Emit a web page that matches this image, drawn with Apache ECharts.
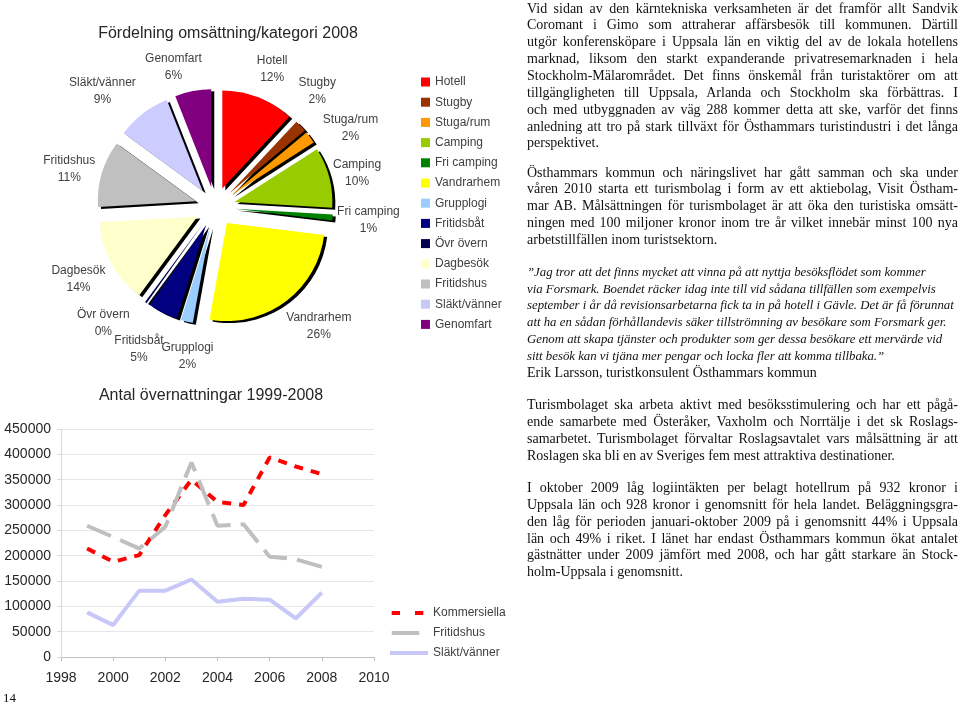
<!DOCTYPE html>
<html><head><meta charset="utf-8">
<script src="https://cdn.jsdelivr.net/npm/echarts@6/dist/echarts.min.js"></script>
<style>
html,body{margin:0;padding:0;background:#fff;width:960px;height:703px;overflow:hidden;}
#chart{position:absolute;left:0;top:0;width:960px;height:703px;}
.txt{position:absolute;left:527px;width:431px;font-family:"Liberation Serif","DejaVu Serif",serif;font-size:14px;line-height:16.85px;color:#111;}
.txt div{text-align:justify;text-align-last:justify;white-space:nowrap;}
.txt div.l{text-align:left;text-align-last:left;}
.q{font-style:italic;font-size:12.8px;}
.q div{text-align:left;text-align-last:left;}
.pg{position:absolute;left:3px;top:690px;font-family:"Liberation Serif",serif;font-size:13px;color:#111;}
</style></head><body>
<div id="chart"></div>
<div class="txt" style="top:0.6px">
<div>Vid sidan av den kärntekniska verksamheten är det framför allt Sandvik</div>
<div>Coromant i Gimo som attraherar affärsbesök till kommunen. Därtill</div>
<div>utgör konferensköpare i Uppsala län en viktig del av de lokala hotellens</div>
<div>marknad, liksom den starkt expanderande privatresemarknaden i hela</div>
<div>Stockholm-Mälarområdet. Det finns önskemål från turistaktörer om att</div>
<div>tillgängligheten till Uppsala, Arlanda och Stockholm ska förbättras. I</div>
<div>och med utbyggnaden av väg 288 kommer detta att ske, varför det finns</div>
<div>anledning att tro på stark tillväxt för Östhammars turistindustri i det långa</div>
<div class="l">perspektivet.</div>
</div>
<div class="txt" style="top:164.6px">
<div>Östhammars kommun och näringslivet har gått samman och ska under</div>
<div>våren 2010 starta ett turismbolag i form av ett aktiebolag, Visit Östham-</div>
<div>mar AB. Målsättningen för turismbolaget är att öka den turistiska omsätt-</div>
<div>ningen med 100 miljoner kronor inom tre år vilket innebär minst 100 nya</div>
<div class="l">arbetstillfällen inom turistsektorn.</div>
</div>
<div class="txt" style="top:263.8px">
<div class="q">
<div>”Jag tror att det finns mycket att vinna på att nyttja besöksflödet som kommer</div>
<div>via Forsmark. Boendet räcker idag inte till vid sådana tillfällen som exempelvis</div>
<div>september i år då revisionsarbetarna fick ta in på hotell i Gävle. Det är få förunnat</div>
<div>att ha en sådan förhållandevis säker tillströmning av besökare som Forsmark ger.</div>
<div>Genom att skapa tjänster och produkter som ger dessa besökare ett mervärde vid</div>
<div>sitt besök kan vi tjäna mer pengar och locka fler att komma tillbaka.”</div>
</div>
<div class="l">Erik Larsson, turistkonsulent Östhammars kommun</div>
</div>
<div class="txt" style="top:397px">
<div>Turismbolaget ska arbeta aktivt med besöksstimulering och har ett pågå-</div>
<div>ende samarbete med Österåker, Vaxholm och Norrtälje i det sk Roslags-</div>
<div>samarbetet. Turismbolaget förvaltar Roslagsavtalet vars målsättning är att</div>
<div class="l">Roslagen ska bli en av Sveriges fem mest attraktiva destinationer.</div>
</div>
<div class="txt" style="top:480px">
<div>I oktober 2009 låg logiintäkten per belagt hotellrum på 932 kronor i</div>
<div>Uppsala län och 928 kronor i genomsnitt för hela landet. Beläggningsgra-</div>
<div>den låg för perioden januari-oktober 2009 på i genomsnitt 44% i Uppsala</div>
<div>län och 49% i riket. I länet har endast Östhammars kommun ökat antalet</div>
<div>gästnätter under 2009 jämfört med 2008, och har gått starkare än Stock-</div>
<div class="l">holm-Uppsala i genomsnitt.</div>
</div>
<div class="pg">14</div>
<script>
// Pie data (share of turnover per category 2008, %)
const pieNames = ['Hotell','Stugby','Stuga/rum','Camping','Fri camping','Vandrarhem','Grupplogi','Fritidsbåt','Övr övern','Dagbesök','Fritidshus','Släkt/vänner','Genomfart'];
const pieValues = [12, 2, 2, 10, 1, 26, 2, 5, 0.3, 14, 11, 9, 6];
const pieColors = ['#ff0000','#993300','#ff9900','#99cc00','#008000','#ffff00','#99ccff','#000080','#00004d','#ffffcc','#c0c0c0','#ccccff','#800080'];

// Line data (overnight stays 1999-2008)
const years = [1999, 2000, 2001, 2002, 2003, 2004, 2005, 2006, 2007, 2008];
const kommersiella = [214000, 188000, 201000, 280000, 350000, 306000, 300000, 394000, 376000, 361000];
const fritidshus = [259000, 237000, 214000, 257000, 384000, 259000, 262000, 198000, 193000, 178000];
const slaktVanner = [88000, 63000, 131000, 131000, 153000, 109000, 115000, 113000, 76000, 127000];
const lineNames = ['Kommersiella', 'Fritidshus', 'Släkt/vänner'];

const chart = echarts.init(document.getElementById('chart'));
const font = 'Liberation Sans, Arial, sans-serif';

const PC = [215, 207], PR = 98, POFF = 20;
const LC = [216, 212], LR = 150;
// small label nudges (layout only) to keep crowded labels apart, as in the original
const labelNudge = {
  'Stugby': [-10, -16], 'Stuga/rum': [11, 6], 'Camping': [-7, 0], 'Fri camping': [0, -5],
  'Vandrarhem': [12, -9], 'Grupplogi': [8, -4], 'Fritidsbåt': [-9, 0], 'Övr övern': [-23, -13],
  'Dagbesök': [-3, -6], 'Släkt/vänner': [-20, 0], 'Genomfart': [-14, 5]
};

const pieData = pieNames.map((n, i) => ({
  name: n, value: pieValues[i], selected: true, itemStyle: { color: pieColors[i] }
}));
const labelData = pieNames.map((n, i) => ({
  name: n, value: pieValues[i], label: { offset: labelNudge[n] || [0, 0] }
}));
const pair = arr => years.map((y, i) => [y, arr[i]]);

const rectPath = (a, b) => 'M' + a + ',0L' + b + ',0L' + b + ',4L' + a + ',4Z';
const frame = 'M0,0L0,0M38,4L38,4';

chart.setOption({
  animation: false,
  textStyle: { fontFamily: font },
  title: [
    { text: 'Fördelning omsättning/kategori 2008', left: 223, top: 21, textAlign: 'center',
      textStyle: { fontSize: 16, fontWeight: 'normal', color: '#262626', fontFamily: font } },
    { text: 'Antal övernattningar 1999-2008', left: 206, top: 383, textAlign: 'center',
      textStyle: { fontSize: 16, fontWeight: 'normal', color: '#262626', fontFamily: font } }
  ],
  legend: [
    { data: pieNames, orient: 'vertical', left: 416, top: 71, icon: 'rect', itemWidth: 9, itemHeight: 9, itemGap: 8.2,
      selectedMode: false, textStyle: { fontSize: 12, color: '#404040', fontFamily: font } },
    { data: [
        { name: 'Kommersiella', icon: 'path://' + frame + rectPath(1.7, 10) + rectPath(25, 33.3) },
        { name: 'Fritidshus', icon: 'path://' + frame + rectPath(1.7, 29.3) },
        { name: 'Släkt/vänner', icon: 'path://' + frame + rectPath(0, 38) }
      ],
      orient: 'vertical', left: 385, top: 602, itemWidth: 38, itemHeight: 4, itemGap: 8,
      itemStyle: { borderWidth: 0 }, lineStyle: { width: 0 },
      selectedMode: false, textStyle: { fontSize: 12, color: '#404040', fontFamily: font } }
  ],
  grid: { left: 61, right: 586, top: 429, bottom: 46 },
  xAxis: { type: 'value', min: 1998, max: 2010, interval: 2,
    axisLine: { lineStyle: { color: '#bfbfbf' } },
    axisTick: { show: true, length: 4, lineStyle: { color: '#bfbfbf' } },
    axisLabel: { fontSize: 14, color: '#262626', margin: 14, fontFamily: font, formatter: v => String(v) },
    splitLine: { show: false } },
  yAxis: { type: 'value', min: 0, max: 450000, interval: 50000,
    axisLine: { show: true, lineStyle: { color: '#d9d9d9' } },
    axisTick: { show: true, length: 4, lineStyle: { color: '#d9d9d9' } },
    axisLabel: { fontSize: 14, color: '#262626', margin: 10, fontFamily: font, formatter: v => String(v) },
    splitLine: { lineStyle: { color: '#e6e6e6' } } },
  series: [
    { type: 'pie', center: PC, radius: [0, PR], startAngle: 90, clockwise: true,
      selectedMode: 'multiple', selectedOffset: POFF,
      itemStyle: { shadowColor: '#000', shadowOffsetX: 3, shadowOffsetY: 2, shadowBlur: 0 },
      emphasis: { disabled: true },
      label: { show: false }, labelLine: { show: false },
      data: pieData },
    { type: 'pie', center: LC, radius: [LR - 12, LR + 12], startAngle: 90, clockwise: true,
      silent: true, legendHoverLink: false, emphasis: { disabled: true },
      itemStyle: { color: 'rgba(0,0,0,0)', borderWidth: 0 },
      label: { show: true, position: 'inside', fontFamily: font,
        formatter: p => '{n|' + p.name + '}\n{n|' + Math.round(p.value) + '%}',
        rich: { n: { fontSize: 12, color: '#404040', lineHeight: 17, align: 'center', fontFamily: font } } },
      labelLayout: { hideOverlap: false },
      labelLine: { show: false },
      data: labelData },
    { name: 'Kommersiella', type: 'line', data: pair(kommersiella), showSymbol: false, symbol: 'none',
      itemStyle: { color: '#ff0000' }, lineStyle: { color: '#ff0000', width: 4, type: [9, 8] } },
    { name: 'Fritidshus', type: 'line', data: pair(fritidshus), showSymbol: false, symbol: 'none',
      itemStyle: { color: '#bfbfbf' }, lineStyle: { color: '#bfbfbf', width: 4, type: [26, 10] } },
    { name: 'Släkt/vänner', type: 'line', data: pair(slaktVanner), showSymbol: false, symbol: 'none',
      itemStyle: { color: '#c8c8f8' }, lineStyle: { color: '#c8c8f8', width: 4 } }
  ]
});
</script>
</body></html>
